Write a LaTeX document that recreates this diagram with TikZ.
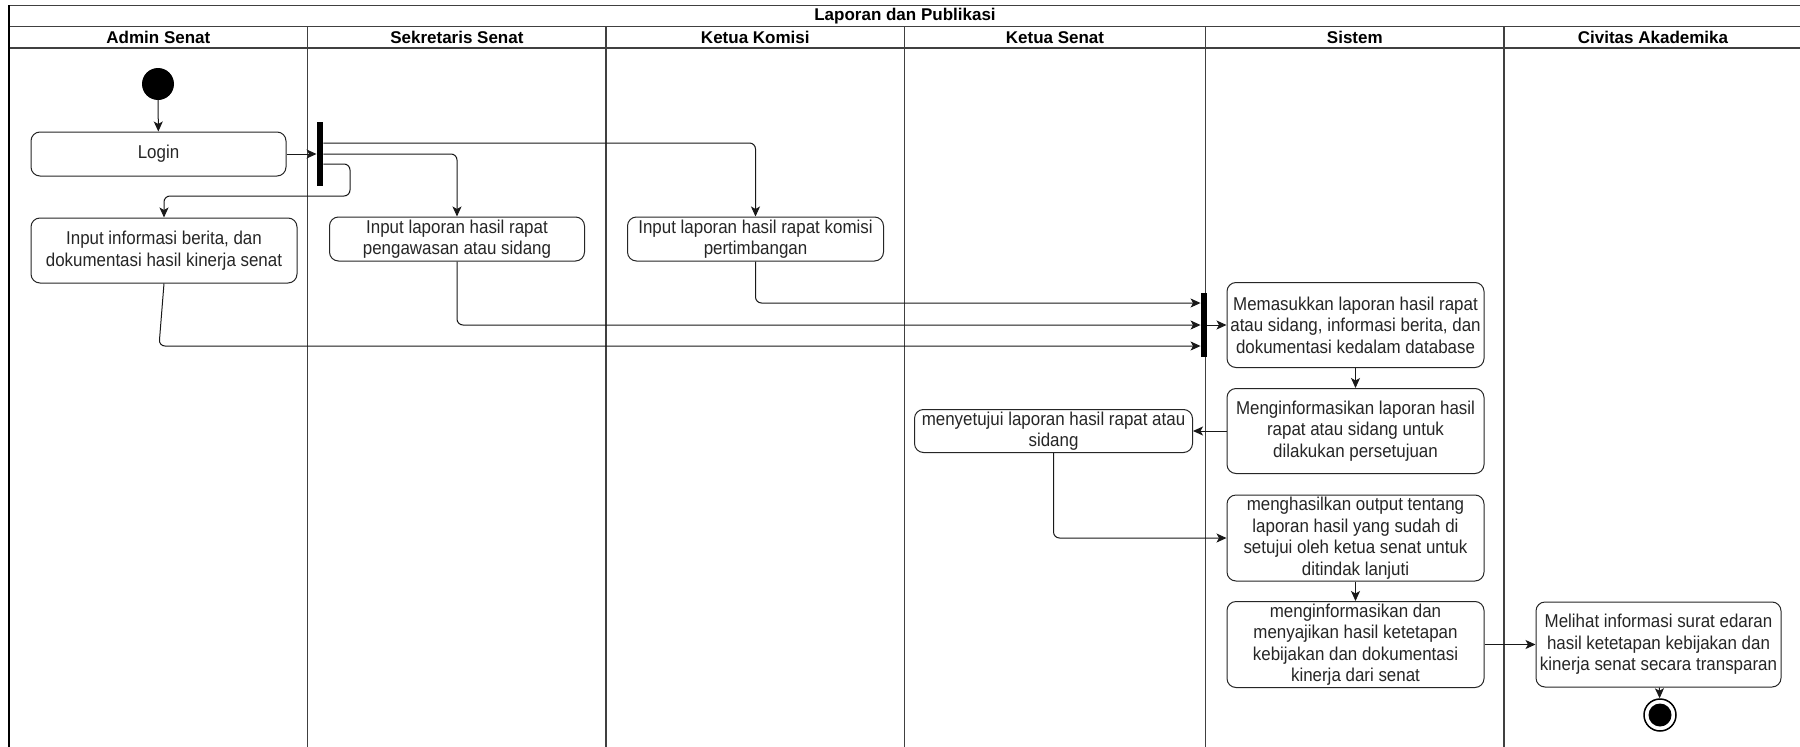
\documentclass[tikz,border=0pt]{standalone}
\usepackage{fontspec}
\setmainfont{Liberation Sans}
\newfontfamily\boxfont[FakeStretch=0.91]{Liberation Sans}
\usetikzlibrary{arrows.meta}
\begin{document}
\begin{tikzpicture}[x=1pt,y=-1pt,
  act/.style={draw=black!85, line width=1pt, rounded corners=9pt, align=center,
    font=\boxfont\fontsize{18.6}{21.5}\selectfont, text=black!85, inner sep=1pt},
  bar/.style={fill=black, draw=none, inner sep=0pt, minimum width=6.5pt, minimum height=64pt},
  flow/.style={draw=black!90, line width=1pt, rounded corners=6pt,
    -{Stealth[length=10pt,width=9pt,inset=2.5pt]}},
  lane/.style={draw=black!75, line width=1.2pt},
  head/.style={font=\fontsize{17}{20}\selectfont\bfseries, text=black, inner sep=0pt}
]
\useasboundingbox (0,0) rectangle (1800,747);
\fill[white] (0,0) rectangle (1800,747);

% frame and lanes
\draw[lane] (9,5.5) -- (1800,5.5);
\draw[lane] (9,26.5) -- (1800,26.5);
\draw[lane] (9,48) -- (1800,48);
\draw[draw=black, line width=2pt] (9,5) -- (9,747);
\foreach \xx in {307.7,606,904.5,1205.5,1504}
  \draw[lane] (\xx,26.5) -- (\xx,747);

\node[head] (title) at (905,16) {Laporan dan Publikasi};
\node[head] (h1) at (158.4,37.5) {Admin Senat};
\node[head] (h2) at (456.9,37.5) {Sekretaris Senat};
\node[head] (h3) at (755.3,37.5) {Ketua Komisi};
\node[head] (h4) at (1055,37.5) {Ketua Senat};
\node[head] (h5) at (1354.8,37.5) {Sistem};
\node[head] (h6) at (1653,37.5) {Civitas Akademika};

% nodes
\node[circle, fill=black, minimum size=32pt, inner sep=0pt] (start) at (158,84) {};
\node[act, minimum width=255pt, minimum height=44pt] (login) at (158.5,154) {Login};
\node[bar] (fork) at (320,154) {};
\node[act, minimum width=266pt, minimum height=65pt] (info) at (164,250.5)
  {Input informasi berita, dan\\dokumentasi hasil kinerja senat};
\node[act, minimum width=255pt, minimum height=44pt] (sek) at (457,239)
  {Input laporan hasil rapat\\pengawasan atau sidang};
\node[act, minimum width=256pt, minimum height=44pt] (kom) at (755.5,239)
  {Input laporan hasil rapat komisi\\pertimbangan};
\node[bar] (join) at (1204,325) {};
\node[act, minimum width=257pt, minimum height=85pt] (masuk) at (1355.5,325)
  {Memasukkan laporan hasil rapat\\atau sidang, informasi berita, dan\\dokumentasi kedalam database};
\node[act, minimum width=257pt, minimum height=85pt] (inform) at (1355.5,431)
  {Menginformasikan laporan hasil\\rapat atau sidang untuk\\dilakukan persetujuan};
\node[act, minimum width=278pt, minimum height=43pt] (setuju) at (1053.5,431)
  {menyetujui laporan hasil rapat atau\\sidang};
\node[act, minimum width=257pt, minimum height=86pt] (hasil) at (1355.5,538)
  {menghasilkan output tentang\\laporan hasil yang sudah di\\setujui oleh ketua senat untuk\\ditindak lanjuti};
\node[act, minimum width=257pt, minimum height=86pt] (saji) at (1355.5,644.5)
  {menginformasikan dan\\menyajikan hasil ketetapan\\kebijakan dan dokumentasi\\kinerja dari senat};
\node[act, minimum width=245pt, minimum height=85pt] (lihat) at (1658.5,644.5)
  {Melihat informasi surat edaran\\hasil ketetapan kebijakan dan\\kinerja senat secara transparan};
\node[circle, draw=black, line width=1.5pt, fill=white, minimum size=32pt, inner sep=0pt] (end) at (1660,715) {};
\node[circle, fill=black, minimum size=23pt, inner sep=0pt] (endin) at (end.center) {};

% connectors
\draw[flow] (start) -- (login);
\draw[flow] (login.east) -- (fork.west);
\draw[flow] (fork.east |- 0,143) -| (kom.north);
\draw[flow] (fork.east) -| (sek.north);
\coordinate (c1) at (350,164);
\coordinate (c2) at (350,196);
\draw[flow] (fork.east |- c1) -- (c1) -- (c2) -- (info.north |- c2) -- (info.north);
\draw[flow] (kom.south) |- (join.west |- 0,303);
\draw[flow] (sek.south) |- (join.west);
\coordinate (c3) at (159,346);
\draw[flow] (info.south) -- (c3) -- (join.west |- c3);
\draw[flow] (join.east) -- (masuk.west);
\draw[flow] (masuk) -- (inform);
\draw[flow] (inform.west) -- (setuju.east);
\draw[flow] (setuju.south) |- (hasil.west);
\draw[flow] (hasil) -- (saji);
\draw[flow] (saji.east) -- (lihat.west);
\draw[flow] (lihat) -- (end);
\end{tikzpicture}
\end{document}
